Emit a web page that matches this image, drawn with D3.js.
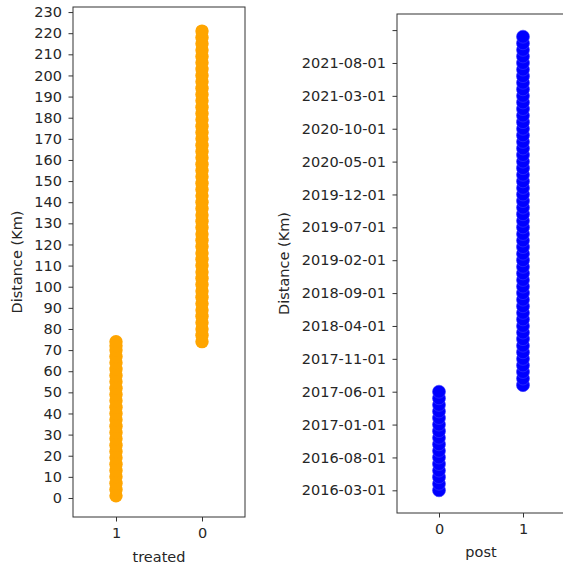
<!DOCTYPE html>
<html>
<head>
<meta charset="utf-8">
<script src="https://cdn.jsdelivr.net/npm/d3@7"></script>
<style>
  body { margin: 0; background: #fff; }
  text { font-family: "DejaVu Sans", sans-serif; fill: #262626; }
</style>
</head>
<body>
<div id="chart"></div>
<script>
/////////////////////////////////////////////////////////////
/////////////////////// Data ///////////////////////////////
/////////////////////////////////////////////////////////////

// left panel: treated on x (categorical, "1" then "0"), distance on y
var treatedCats = ["1", "0"];
var treatedOneDist = [1, 4, 7, 10, 13, 16, 19, 22, 25, 28, 31, 34, 37, 40, 43, 46, 49,
  52, 55, 58, 61, 64, 67, 70, 72, 74];
var treatedZeroDist = [74, 77, 80, 83, 86, 89, 92, 95, 98, 101, 104, 107, 110, 113, 116,
  119, 122, 125, 128, 131, 134, 137, 140, 143, 146, 149, 152, 155, 158, 161, 164, 167,
  170, 173, 176, 179, 182, 185, 188, 191, 194, 197, 200, 203, 206, 209, 212, 215, 218, 221];

// right panel: post on x, month (categorical) on y
var postCats = ["0", "1"];
var preMonths = ["2016-03-01", "2016-04-01", "2016-05-01", "2016-06-01", "2016-07-01",
  "2016-08-01", "2016-09-01", "2016-10-01", "2016-11-01", "2016-12-01", "2017-01-01",
  "2017-02-01", "2017-03-01", "2017-04-01", "2017-05-01", "2017-06-01"];
var postMonths = ["2017-07-01", "2017-08-01", "2017-09-01", "2017-10-01", "2017-11-01",
  "2017-12-01", "2018-01-01", "2018-02-01", "2018-03-01", "2018-04-01", "2018-05-01",
  "2018-06-01", "2018-07-01", "2018-08-01", "2018-09-01", "2018-10-01", "2018-11-01",
  "2018-12-01", "2019-01-01", "2019-02-01", "2019-03-01", "2019-04-01", "2019-05-01",
  "2019-06-01", "2019-07-01", "2019-08-01", "2019-09-01", "2019-10-01", "2019-11-01",
  "2019-12-01", "2020-01-01", "2020-02-01", "2020-03-01", "2020-04-01", "2020-05-01",
  "2020-06-01", "2020-07-01", "2020-08-01", "2020-09-01", "2020-10-01", "2020-11-01",
  "2020-12-01", "2021-01-01", "2021-02-01", "2021-03-01", "2021-04-01", "2021-05-01",
  "2021-06-01", "2021-07-01", "2021-08-01", "2021-09-01", "2021-10-01", "2021-11-01",
  "2021-12-01"];

var fontSize = 14.5;

var svg = d3.select("#chart")
  .append("svg")
  .attr("width", 563)
  .attr("height", 567);

// small helper to make the axis look like matplotlib
function styleAxis(g) {
  g.select(".domain").remove();
  g.selectAll(".tick line").attr("stroke", "#333").attr("stroke-width", 1);
  g.selectAll(".tick text")
    .attr("font-size", fontSize)
    .attr("font-family", "DejaVu Sans")
    .attr("fill", "#262626");
}

/////////////////////////////////////////////////////////////
////////////////// Left panel: treated /////////////////////
/////////////////////////////////////////////////////////////

var left = { x0: 73, x1: 245, y0: 7, y1: 517 };

var xL = d3.scaleLinear().domain([-0.5, 1.5]).range([left.x0, left.x1]);
var yL = d3.scaleLinear().domain([-9, 232.4]).range([left.y1, left.y0]);

var leftPoints = treatedOneDist.map(d => ({ cat: 0, v: d }))
  .concat(treatedZeroDist.map(d => ({ cat: 1, v: d })));

svg.append("g")
  .selectAll("circle")
  .data(leftPoints).enter().append("circle")
  .attr("cx", d => xL(d.cat))
  .attr("cy", d => yL(d.v))
  .attr("r", 6.7)
  .attr("fill", "#ffa500");

svg.append("g")
  .attr("transform", "translate(" + left.x0 + ",0)")
  .call(d3.axisLeft(yL).tickValues(d3.range(0, 231, 10)).tickSize(4.5).tickPadding(6.5))
  .call(styleAxis);

svg.append("g")
  .attr("transform", "translate(0," + left.y1 + ")")
  .call(d3.axisBottom(xL).tickValues([0, 1]).tickFormat(i => treatedCats[i]).tickSize(4.5).tickPadding(6))
  .call(styleAxis);

svg.append("rect")
  .attr("x", left.x0).attr("y", left.y0)
  .attr("width", left.x1 - left.x0).attr("height", left.y1 - left.y0)
  .attr("fill", "none").attr("stroke", "#333").attr("stroke-width", 1);

svg.append("text")
  .attr("transform", "translate(22," + ((left.y0 + left.y1) / 2) + ")rotate(-90)")
  .attr("text-anchor", "middle")
  .attr("font-size", fontSize)
  .text("Distance (Km)");

svg.append("text")
  .attr("x", (left.x0 + left.x1) / 2)
  .attr("y", 562)
  .attr("text-anchor", "middle")
  .attr("font-size", fontSize)
  .text("treated");

/////////////////////////////////////////////////////////////
/////////////////// Right panel: post //////////////////////
/////////////////////////////////////////////////////////////

var right = { x0: 397, x1: 565, y0: 14, y1: 513 };
var allMonths = preMonths.concat(postMonths);

var xR = d3.scaleLinear().domain([-0.5, 1.5]).range([right.x0, right.x1]);
var yR = d3.scaleLinear()
  .domain([-0.05 * (allMonths.length - 1), (allMonths.length - 1) * 1.05])
  .range([right.y1, right.y0]);

var rightPoints = preMonths.map(m => ({ cat: 0, m: m }))
  .concat(postMonths.map(m => ({ cat: 1, m: m })));

svg.append("g")
  .selectAll("circle")
  .data(rightPoints).enter().append("circle")
  .attr("cx", d => xR(d.cat))
  .attr("cy", d => yR(allMonths.indexOf(d.m)))
  .attr("r", 6.5)
  .attr("fill", "#0000ff")
  .attr("stroke", "#3a3aff")
  .attr("stroke-width", 0.6);

svg.append("g")
  .attr("transform", "translate(" + right.x0 + ",0)")
  .call(d3.axisLeft(yR).tickValues(d3.range(0, 71, 5))
    .tickFormat(i => allMonths[i] || "").tickSize(4.5).tickPadding(6.5))
  .call(styleAxis);

svg.append("g")
  .attr("transform", "translate(0," + right.y1 + ")")
  .call(d3.axisBottom(xR).tickValues([0, 1]).tickFormat(i => postCats[i]).tickSize(4.5).tickPadding(6))
  .call(styleAxis);

svg.append("rect")
  .attr("x", right.x0).attr("y", right.y0)
  .attr("width", right.x1 - right.x0).attr("height", right.y1 - right.y0)
  .attr("fill", "none").attr("stroke", "#333").attr("stroke-width", 1);

svg.append("text")
  .attr("transform", "translate(289," + ((right.y0 + right.y1) / 2) + ")rotate(-90)")
  .attr("text-anchor", "middle")
  .attr("font-size", fontSize)
  .text("Distance (Km)");

svg.append("text")
  .attr("x", (right.x0 + right.x1) / 2)
  .attr("y", 557)
  .attr("text-anchor", "middle")
  .attr("font-size", fontSize)
  .text("post");
</script>
</body>
</html>
